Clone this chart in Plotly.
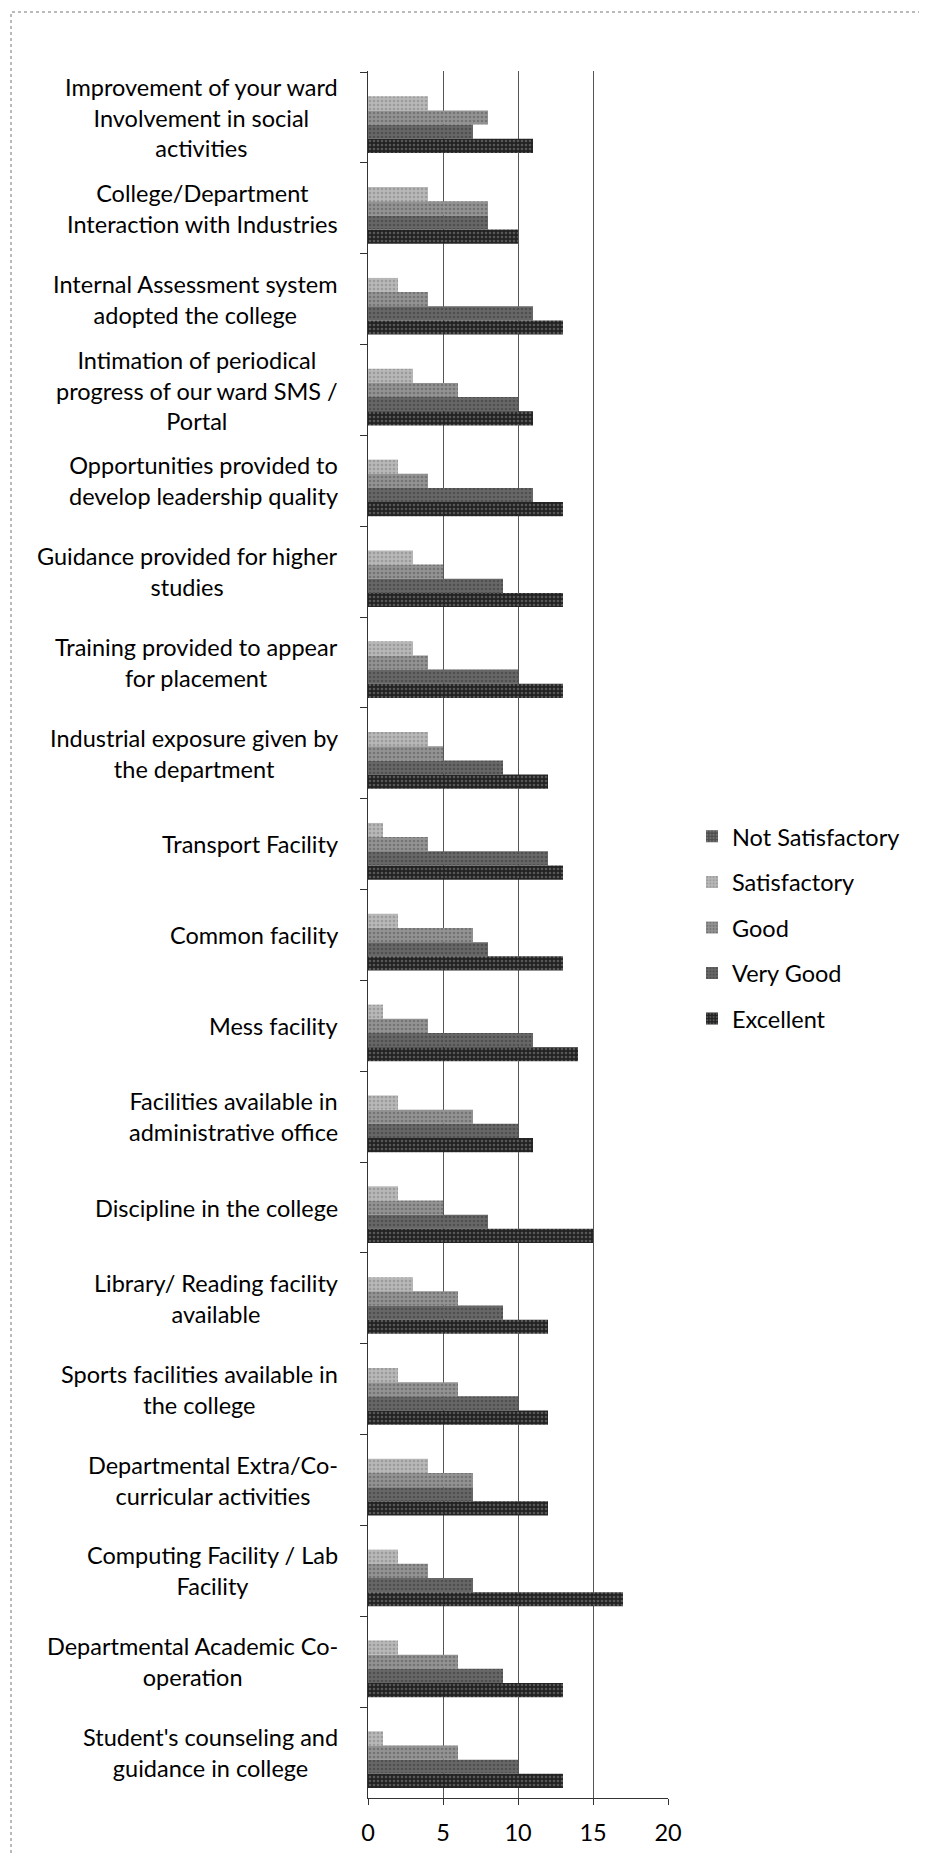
import plotly.graph_objects as go

categories = [
    "Improvement of your ward<br>Involvement in social<br>activities",
    "College/Department<br>Interaction with Industries",
    "Internal Assessment system<br>adopted the college",
    "Intimation of periodical<br>progress of our ward SMS /<br>Portal",
    "Opportunities provided to<br>develop leadership quality",
    "Guidance provided for higher<br>studies",
    "Training provided to appear<br>for placement",
    "Industrial exposure given by<br>the department",
    "Transport Facility",
    "Common facility",
    "Mess facility",
    "Facilities available in<br>administrative office",
    "Discipline in the college",
    "Library/ Reading facility<br>available",
    "Sports facilities available in<br>the college",
    "Departmental Extra/Co-<br>curricular activities",
    "Computing Facility / Lab<br>Facility",
    "Departmental Academic Co-<br>operation",
    "Student's counseling and<br>guidance in college",
]

not_satisfactory = [0] * 19
satisfactory = [4, 4, 2, 3, 2, 3, 3, 4, 1, 2, 1, 2, 2, 3, 2, 4, 2, 2, 1]
good = [8, 8, 4, 6, 4, 5, 4, 5, 4, 7, 4, 7, 5, 6, 6, 7, 4, 6, 6]
very_good = [7, 8, 11, 10, 11, 9, 10, 9, 12, 8, 11, 10, 8, 9, 10, 7, 7, 9, 10]
excellent = [11, 10, 13, 11, 13, 13, 13, 12, 13, 13, 14, 11, 15, 12, 12, 12, 17, 13, 13]

series_names = ["Not Satisfactory", "Satisfactory", "Good", "Very Good", "Excellent"]
series_values = [not_satisfactory, satisfactory, good, very_good, excellent]
bg_colors = ["#4e4e4e", "#b8b8b8", "#939393", "#676767", "#222222"]
fg_colors = ["#9a9a9a", "#7e7e7e", "#555555", "#383838", "#8c8c8c"]

FONT = "Lato, 'Open Sans', sans-serif"

fig = go.Figure()
for i, (name, vals) in enumerate(zip(series_names, series_values)):
    fig.add_trace(go.Bar(
        y=categories, x=vals, name=name, orientation="h",
        legendgroup=name,
        marker=dict(
            color=bg_colors[i],
            line=dict(width=0),
            pattern=dict(shape=".", fgcolor=fg_colors[i], bgcolor=bg_colors[i],
                         size=4, solidity=0.35),
        ),
    ))

for c in categories:
    fig.add_annotation(
        x=0, xref="paper", y=c, yref="y", text=c, showarrow=False,
        xanchor="right", yanchor="middle", align="center", xshift=-28,
        font=dict(family=FONT, size=23.5, color="#000000"),
    )

fig.add_shape(type="rect", xref="paper", yref="paper",
              x0=(3 - 360) / 300, x1=(924 - 360) / 300,
              y0=(1790 - 1850) / 1727, y1=(1790 - 4) / 1727,
              line=dict(color="#777777", width=1, dash="dot"), layer="below")

fig.update_layout(
    width=927, height=1854,
    margin=dict(l=360, r=267, t=63, b=64),
    barmode="group", bargap=0.22, bargroupgap=0,
    paper_bgcolor="white", plot_bgcolor="white",
    font=dict(family=FONT, size=23.5, color="#000000"),
    showlegend=True,
    legend=dict(x=1.08, xanchor="left", y=0.504, yanchor="middle",
                traceorder="grouped", tracegroupgap=12,
                font=dict(family=FONT, size=23.5, color="#000000"),
                itemwidth=30, bgcolor="rgba(0,0,0,0)"),
    xaxis=dict(range=[0, 20], dtick=5, tick0=0, showgrid=True,
               gridcolor="#555555", gridwidth=1, zeroline=False,
               showline=True, linecolor="#333333", linewidth=1,
               ticks="outside", ticklen=6, tickcolor="#333333",
               ticklabelstandoff=8,
               tickfont=dict(family=FONT, size=23.5, color="#000000")),
    yaxis=dict(autorange="reversed", showticklabels=False, showgrid=False,
               showline=True, linecolor="#333333", linewidth=1,
               ticks="outside", ticklen=7, tickcolor="#333333",
               tickson="boundaries", zeroline=False),
)

fig.write_html("out.html")
